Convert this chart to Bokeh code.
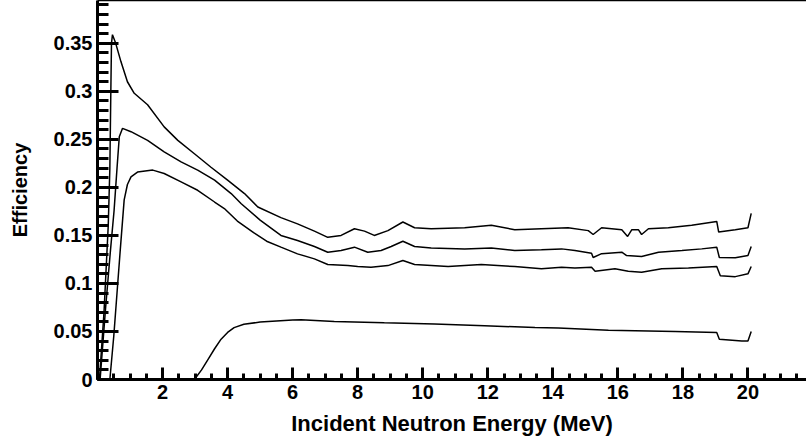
from bokeh.plotting import figure
from bokeh.models import SingleIntervalTicker, FixedTicker, CustomJSTickFormatter, LinearAxis, Range1d
from bokeh.embed import file_html
from bokeh.resources import INLINE

# Curve A (top)
a_energy = [0.06, 0.2, 0.33, 0.38, 0.41, 0.43, 0.46, 0.56, 0.72, 0.92, 1.13, 1.54, 2.05, 2.47, 2.98, 3.49,
            4.0, 4.52, 4.93, 5.64, 6.15, 6.67, 7.08, 7.49, 7.9, 8.21, 8.51, 8.93, 9.39, 9.75, 10.26, 11.29,
            12.11, 12.83, 13.65, 14.47, 15.09, 15.24, 15.5, 16.12, 16.3, 16.43, 16.63, 16.73, 16.94, 17.55,
            18.27, 19.04, 19.1, 19.61, 20.0, 20.1]
a_eff = [0.0, 0.07, 0.16, 0.22, 0.30, 0.35, 0.359, 0.350, 0.331, 0.310, 0.298, 0.286, 0.263, 0.249, 0.235, 0.221,
         0.2075, 0.1936, 0.1796, 0.1685, 0.162, 0.1545, 0.148, 0.150, 0.157, 0.1545, 0.150, 0.155, 0.164, 0.158,
         0.157, 0.158, 0.1605, 0.156, 0.157, 0.158, 0.155, 0.151, 0.158, 0.156, 0.149, 0.156, 0.156, 0.151,
         0.157, 0.158, 0.1605, 0.1646, 0.1535, 0.156, 0.158, 0.173]

# Curve B (middle)
b_energy = [0.08, 0.25, 0.4, 0.51, 0.6, 0.67, 0.77, 1.03, 1.54, 2.05, 2.57, 3.08, 3.6, 4.11, 4.42, 5.0,
            5.64, 6.15, 6.67, 7.08, 7.49, 7.9, 8.31, 8.72, 9.03, 9.39, 9.75, 10.26, 11.29, 12.11, 12.83,
            13.65, 14.27, 14.68, 15.19, 15.24, 15.5, 16.12, 16.27, 16.73, 17.25, 17.97, 18.58, 19.04, 19.12,
            19.61, 20.0, 20.1]
b_eff = [0.0, 0.075, 0.135, 0.176, 0.22, 0.2527, 0.2615, 0.258, 0.249, 0.237, 0.2266, 0.218, 0.2075, 0.1936,
         0.183, 0.166, 0.150, 0.1448, 0.1385, 0.1325, 0.1343, 0.1378, 0.1325, 0.1343, 0.1385, 0.144, 0.1385,
         0.137, 0.136, 0.137, 0.1343, 0.135, 0.136, 0.1343, 0.1315, 0.127, 0.131, 0.1325, 0.129, 0.128,
         0.1325, 0.1343, 0.136, 0.1378, 0.127, 0.1267, 0.129, 0.1385]

# Curve C (lower)
c_energy = [0.38, 0.5, 0.6, 0.7, 0.82, 0.92, 1.03, 1.23, 1.7, 2.05, 2.57, 3.08, 3.6, 3.9, 4.3, 4.8, 5.2,
            5.64, 6.15, 6.67, 7.08, 7.7, 8.0, 8.41, 8.93, 9.39, 9.75, 10.78, 11.8, 12.83, 13.65, 14.27,
            14.68, 15.19, 15.3, 15.91, 16.32, 16.73, 17.35, 18.17, 19.04, 19.15, 19.61, 20.0, 20.1]
c_eff = [0.0, 0.045, 0.09, 0.135, 0.187, 0.203, 0.211, 0.216, 0.218, 0.2145, 0.2057, 0.197, 0.1848, 0.178,
         0.165, 0.153, 0.144, 0.1378, 0.1308, 0.1256, 0.1197, 0.1186, 0.1176, 0.1169, 0.1186, 0.1239, 0.1197,
         0.1176, 0.1197, 0.1176, 0.1152, 0.1169, 0.1162, 0.1169, 0.1127, 0.1152, 0.1127, 0.1116, 0.1152,
         0.1162, 0.1176, 0.108, 0.1071, 0.110, 0.1176]

# Curve D (bottom)
d_energy = [2.98, 3.2, 3.4, 3.6, 3.8, 4.0, 4.2, 4.5, 5.0, 5.5, 6.0, 6.26, 7.28, 8.82, 10.36, 11.9, 13.45,
            14.17, 15.71, 17.76, 19.04, 19.12, 19.81, 20.0, 20.1]
d_eff = [0.0, 0.010, 0.021, 0.032, 0.042, 0.049, 0.054, 0.0575, 0.0598, 0.061, 0.0620, 0.0622, 0.0605, 0.059,
         0.0577, 0.0559, 0.0541, 0.0535, 0.0514, 0.050, 0.0489, 0.042, 0.0402, 0.0402, 0.050]

x_title = "Incident Neutron Energy (MeV)"
y_title = "Efficiency"

FONT = "Liberation Sans"

p = figure(width=806, height=443, output_backend="svg", toolbar_location=None,
           x_range=Range1d(0, 21.8), y_range=Range1d(0, 0.3946),
           min_border_left=97, min_border_right=0, min_border_top=0, min_border_bottom=64)
p.background_fill_color = "white"
p.border_fill_color = "white"
p.outline_line_color = None
p.grid.visible = False

for xs, ys in [(a_energy, a_eff), (b_energy, b_eff), (c_energy, c_eff), (d_energy, d_eff)]:
    p.line(xs, ys, line_color="black", line_width=1.5)


def style_axis(ax, tick_in, minor_in, label_size):
    ax.axis_line_width = 3
    ax.axis_line_color = "black"
    ax.major_tick_in = tick_in
    ax.major_tick_out = 0
    ax.minor_tick_in = minor_in
    ax.minor_tick_out = 0
    ax.major_tick_line_width = 3
    ax.minor_tick_line_width = 3
    ax.major_tick_line_color = "black"
    ax.minor_tick_line_color = "black"
    ax.major_label_text_font = FONT
    ax.major_label_text_font_style = "bold"
    ax.major_label_text_font_size = label_size
    ax.major_label_text_color = "black"
    ax.major_label_standoff = 5
    ax.axis_label_text_font = FONT
    ax.axis_label_text_font_style = "bold"
    ax.axis_label_text_color = "black"


xa = p.xaxis[0]
xa.ticker = SingleIntervalTicker(interval=2, num_minor_ticks=4)
xa.formatter = CustomJSTickFormatter(code="return tick == 0 ? '' : tick.toFixed(0);")
style_axis(xa, 12, 6, "20px")
xa.axis_label = x_title
xa.axis_label_text_font_size = "22px"
xa.axis_label_standoff = 9

ya = p.yaxis[0]
ya.ticker = SingleIntervalTicker(interval=0.05, num_minor_ticks=5)
ya.formatter = CustomJSTickFormatter(code="return (Math.round(tick*100)/100).toString();")
style_axis(ya, 21, 11, "20px")
ya.axis_label = y_title
ya.axis_label_text_font_size = "20px"
ya.axis_label_standoff = 20

top = LinearAxis(ticker=FixedTicker(ticks=[]), major_tick_line_color=None, minor_tick_line_color=None,
                 axis_line_width=1.5, axis_line_color="black")
p.add_layout(top, "above")

open("out.html", "w").write(file_html(p, INLINE))
